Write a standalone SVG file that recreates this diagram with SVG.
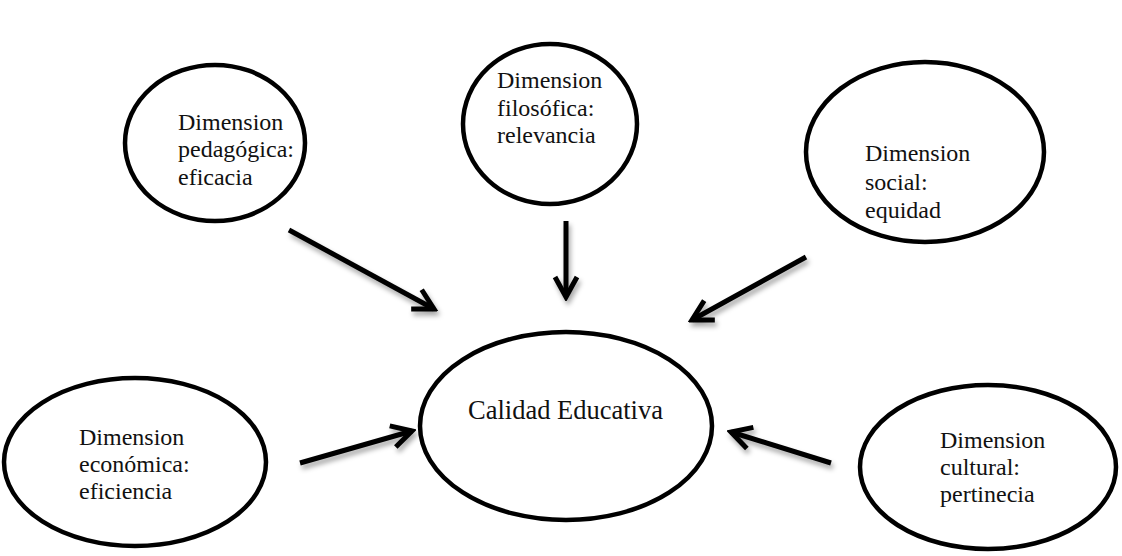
<svg xmlns="http://www.w3.org/2000/svg" width="1122" height="556" viewBox="0 0 1122 556">
  <style>
    .node { fill: #ffffff; stroke: #000000; stroke-width: 4.5; }
    .lbl { font-family: "Liberation Serif", "Times New Roman", serif; font-size: 24px; fill: #111111; }
    .main { font-size: 26.5px; }
    .arrow { fill: none; stroke: #000000; stroke-width: 5; stroke-linecap: butt; stroke-linejoin: miter; }
  </style>
  <defs>
    <filter id="shadow" x="-20%" y="-20%" width="140%" height="140%">
      <feDropShadow dx="2" dy="4" stdDeviation="2.5" flood-color="#000000" flood-opacity="0.35"/>
    </filter>
    <marker id="head" viewBox="-24 -14 28 28" refX="0" refY="0" markerWidth="28" markerHeight="28" markerUnits="userSpaceOnUse" orient="auto">
      <path d="M-20,-11 L0,0 L-20,11" fill="none" stroke="#000000" stroke-width="5" stroke-linejoin="miter"/>
    </marker>
  </defs>

  <rect width="1122" height="556" fill="#ffffff"/>

  <!-- connectors -->
  <g id="connectors" filter="url(#shadow)">
    <path class="arrow" d="M289,230 L434,309" marker-end="url(#head)"/>
    <path class="arrow" d="M566,221 L566,297" marker-end="url(#head)"/>
    <path class="arrow" d="M806,257 L692,320" marker-end="url(#head)"/>
    <path class="arrow" d="M300,463 L412,431" marker-end="url(#head)"/>
    <path class="arrow" d="M831,463 L731,432" marker-end="url(#head)"/>
  </g>

  <g id="pedagogica">
    <ellipse class="node" cx="215" cy="143" rx="90" ry="78"/>
    <text class="lbl" x="178" y="130">Dimension</text>
    <text class="lbl" x="178" y="157">pedagógica:</text>
    <text class="lbl" x="178" y="185">eficacia</text>
  </g>

  <g id="filosofica">
    <ellipse class="node" cx="550" cy="124" rx="87" ry="80"/>
    <text class="lbl" x="497" y="88">Dimension</text>
    <text class="lbl" x="497" y="116">filosófica:</text>
    <text class="lbl" x="497" y="143">relevancia</text>
  </g>

  <g id="social">
    <ellipse class="node" cx="925" cy="152" rx="119" ry="90"/>
    <text class="lbl" x="865" y="161">Dimension</text>
    <text class="lbl" x="865" y="190">social:</text>
    <text class="lbl" x="865" y="218">equidad</text>
  </g>

  <g id="calidad">
    <ellipse class="node" cx="566" cy="426" rx="146" ry="94"/>
    <text class="lbl main" x="468" y="419">Calidad Educativa</text>
  </g>

  <g id="economica">
    <ellipse class="node" cx="135" cy="462" rx="131" ry="84"/>
    <text class="lbl" x="79" y="445">Dimension</text>
    <text class="lbl" x="79" y="472">económica:</text>
    <text class="lbl" x="79" y="499">eficiencia</text>
  </g>

  <g id="cultural">
    <ellipse class="node" cx="988" cy="467" rx="128" ry="82"/>
    <text class="lbl" x="940" y="448">Dimension</text>
    <text class="lbl" x="940" y="475">cultural:</text>
    <text class="lbl" x="940" y="502">pertinecia</text>
  </g>
</svg>
